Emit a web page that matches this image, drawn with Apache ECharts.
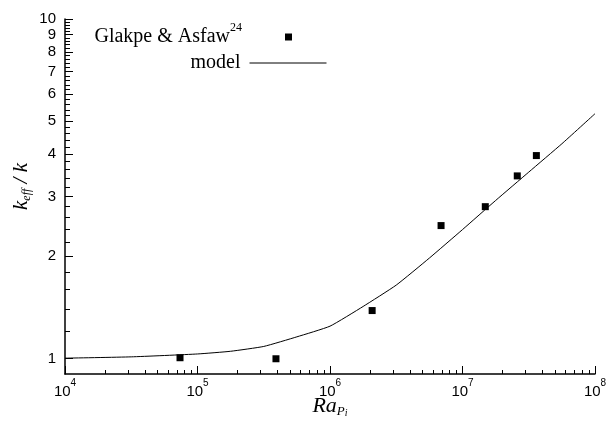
<!DOCTYPE html>
<html>
<head>
<meta charset="utf-8">
<script src="https://cdn.jsdelivr.net/npm/echarts@6/dist/echarts.min.js"></script>
<style>
  html, body { margin: 0; padding: 0; background: #fff; }
  #chart { width: 608px; height: 421px; }
</style>
</head>
<body>
<div id="chart"></div>
<script>
// Glakpe & Asfaw experimental points
const expRa = [73800, 391000, 2080000, 6890000, 14860000, 25900000, 36100000];
const expK = [1.005, 0.998, 1.384, 2.463, 2.80, 3.45, 3.96];

// model curve
const modelRa = [10000, 31623, 100000, 177828, 316228, 562341, 1000000, 1778279,
  3162278, 5623413, 10000000, 17782794, 31622777, 56234133, 100000000];
const modelK = [1.002, 1.011, 1.031, 1.050, 1.085, 1.158, 1.245, 1.423,
  1.645, 1.976, 2.397, 2.92, 3.54, 4.29, 5.26];

// ticks
const xMajor = [1e4, 1e5, 1e6, 1e7, 1e8];
const xMinor = [2e4, 3e4, 4e4, 5e4, 6e4, 7e4, 8e4, 9e4,
  2e5, 3e5, 4e5, 5e5, 6e5, 7e5, 8e5, 9e5,
  2e6, 3e6, 4e6, 5e6, 6e6, 7e6, 8e6, 9e6,
  2e7, 3e7, 4e7, 5e7, 6e7, 7e7, 8e7, 9e7];
const yMajor = [1, 2, 3, 4, 5, 6, 7, 8, 9, 10];
const yMinor = [1.2, 1.4, 1.6, 1.8, 2.2, 2.4, 2.6, 2.8, 3.2, 3.4, 3.6, 3.8,
  4.2, 4.4, 4.6, 4.8, 5.2, 5.4, 5.6, 5.8, 6.2, 6.4, 6.6, 6.8,
  7.2, 7.4, 7.6, 7.8, 8.2, 8.4, 8.6, 8.8, 9.2, 9.4, 9.6, 9.8];

const sans = 'Liberation Sans';
const serif = 'Liberation Serif';

const chart = echarts.init(document.getElementById('chart'));

const xBase = {
  type: 'log', logBase: 10, min: 1e4, max: 1e8,
  position: 'bottom',
  splitLine: { show: false }
};
const yBase = {
  type: 'log', logBase: 10, min: 0.9, max: 10,
  position: 'left',
  splitLine: { show: false }
};

const option = {
  animation: false,
  backgroundColor: '#fff',
  grid: { left: 65, right: 13, top: 19, bottom: 47, outerBoundsMode: 'none' },
  legend: [
    {
      data: ['Glakpe & Asfaw'],
      right: 316, top: 22, padding: 0,
      align: 'right', orient: 'vertical',
      icon: 'rect', itemWidth: 7, itemHeight: 7,
      selectedMode: false,
      itemStyle: { color: '#000', opacity: 1 },
      formatter: name => '{t|' + name + '}{sup|24}',
      textStyle: {
        color: '#000',
        padding: [0, 38, 0, 0],
        rich: {
          t: { fontFamily: serif, fontSize: 20, lineHeight: 30 },
          sup: { fontFamily: serif, fontSize: 12, verticalAlign: 'top', lineHeight: 12 }
        }
      }
    },
    {
      data: ['model'],
      right: 281, top: 53, padding: 0,
      align: 'right', orient: 'vertical',
      itemWidth: 77, itemHeight: 10,
      selectedMode: false,
      itemStyle: { opacity: 0 },
      lineStyle: { color: '#000', width: 1 },
      textStyle: {
        fontFamily: serif, fontSize: 20, color: '#000',
        padding: [0, 4, 8, 0]
      }
    }
  ],
  xAxis: [
    Object.assign({}, xBase, {
      name: '{i|Ra}{sub|P}{subsub|i}',
      nameLocation: 'middle', nameGap: 20, nameMoveOverlap: false,
      nameTextStyle: {
        color: '#000',
        rich: {
          i: { fontFamily: serif, fontStyle: 'italic', fontSize: 22, lineHeight: 24 },
          sub: { fontFamily: serif, fontStyle: 'italic', fontSize: 13, verticalAlign: 'bottom', lineHeight: 14 },
          subsub: { fontFamily: serif, fontStyle: 'italic', fontSize: 10, verticalAlign: 'bottom', lineHeight: 9 }
        }
      },
      axisLine: { show: true, lineStyle: { color: '#000', width: 1.5 } },
      axisTick: { show: true, inside: true, length: 8, customValues: xMajor, lineStyle: { color: '#000', width: 1 } },
      axisLabel: {
        customValues: xMajor, margin: 4, color: '#000',
        formatter: v => '{b|10}{sup|' + Math.round(Math.log10(v)) + '}',
        rich: {
          b: { fontFamily: sans, fontSize: 15, lineHeight: 21, verticalAlign: 'bottom' },
          sup: { fontFamily: sans, fontSize: 10, verticalAlign: 'top', lineHeight: 10 }
        }
      }
    }),
    Object.assign({}, xBase, {
      axisLine: { show: false },
      axisTick: { show: true, inside: true, length: 4, customValues: xMinor, lineStyle: { color: '#000', width: 1 } },
      axisLabel: { show: false }
    })
  ],
  yAxis: [
    Object.assign({}, yBase, {
      name: '{i|k}{sub|eff}{i| / k}',
      nameLocation: 'middle', nameGap: 32, nameRotate: 90, nameMoveOverlap: false,
      nameTextStyle: {
        color: '#000',
        padding: [0, 0, 0, 20],
        rich: {
          i: { fontFamily: serif, fontStyle: 'italic', fontSize: 21, lineHeight: 24 },
          sub: { fontFamily: serif, fontStyle: 'italic', fontSize: 12, verticalAlign: 'bottom', lineHeight: 14 }
        }
      },
      axisLine: { show: true, lineStyle: { color: '#000', width: 1.5 } },
      axisTick: { show: true, inside: true, length: 8, customValues: yMajor, lineStyle: { color: '#000', width: 1 } },
      axisLabel: {
        customValues: yMajor, margin: 9, color: '#000',
        fontFamily: sans, fontSize: 15
      }
    }),
    Object.assign({}, yBase, {
      axisLine: { show: false },
      axisTick: { show: true, inside: true, length: 5, customValues: yMinor, lineStyle: { color: '#000', width: 1 } },
      axisLabel: { show: false }
    })
  ],
  series: [
    {
      name: 'Glakpe & Asfaw',
      type: 'scatter',
      xAxisIndex: 0, yAxisIndex: 0,
      symbol: 'rect', symbolSize: 7,
      itemStyle: { color: '#000', opacity: 1 },
      data: expRa.map((x, i) => [x, expK[i]]),
      z: 3
    },
    {
      name: 'model',
      type: 'line',
      xAxisIndex: 0, yAxisIndex: 0,
      symbol: 'none', smooth: 0.15,
      lineStyle: { color: '#000', width: 1 },
      itemStyle: { color: '#000' },
      data: modelRa.map((x, i) => [x, modelK[i]]),
      z: 2
    }
  ]
};

chart.setOption(option);
</script>
</body>
</html>
